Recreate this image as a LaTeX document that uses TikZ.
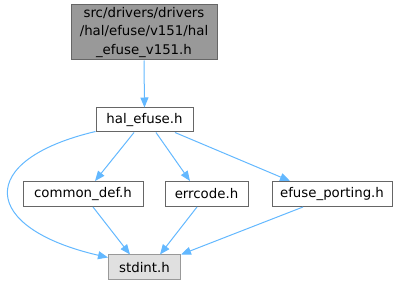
\documentclass[tikz,border=0pt]{standalone}
\usepackage{fontspec}
\setmainfont{DejaVu Sans}
\usepackage{xcolor}
\usepackage{tikz}
\usetikzlibrary{arrows.meta,calc}
\definecolor{edgeblue}{HTML}{63B8FF}
\definecolor{rootgray}{HTML}{999999}
\definecolor{leafgray}{HTML}{E0E0E0}
\tikzset{
file/.style={draw=gray!80!black,fill=white,line width=0.75pt,inner sep=0pt,font=\fontsize{10}{14}\selectfont},
dep/.style={-{Triangle[length=7.5pt,width=6pt]},edgeblue,line width=0.75pt}
}
\begin{document}
\begin{tikzpicture}[x=0.75pt,y=-0.75pt]
\useasboundingbox(0,0)rectangle(401,285);
\node[file,fill=rootgray,draw=gray!80!black,minimum width=109.5pt,minimum height=41.25pt,align=center](top)at(144,32.5){src/drivers/drivers\\/hal/efuse/v151/hal\\\_efuse\_v151.h};
\node[file,minimum width=72.75pt,minimum height=18pt](hal)at(144.5,120){hal\_efuse.h};
\node[file,minimum width=90pt,minimum height=18.75pt](common)at(83,194){common\_def.h};
\node[file,minimum width=62.25pt,minimum height=18.75pt](errcode)at(206.5,194){errcode.h};
\node[file,minimum width=90pt,minimum height=18.75pt](porting)at(332,194){efuse\_porting.h};
\node[file,fill=leafgray,draw=rootgray,minimum width=54pt,minimum height=18.75pt](stdint)at(144.5,267.5){stdint.h};
\draw[dep](top.south)--(hal.north);
\draw[dep]($(hal.south)+(-10.5,0)$)--($(common.north)+(12,0)$);
\draw[dep]($(hal.south)+(11.5,0)$)--($(errcode.north)+(-16.5,0)$);
\draw[dep]($(hal.south)+(30.5,0)$)--($(porting.north)+(-42,0)$);
\draw[dep]($(hal.south west)+(0,-1)$)..controls(-25,160)and(-20,228)..($(stdint.north west)+(0,3)$);
\draw[dep]($(common.south)+(10,0)$)--($(stdint.north)+(-14.5,0)$);
\draw[dep]($(errcode.south)+(-9.5,0)$)--($(stdint.north)+(15.5,0)$);
\draw[dep]($(porting.south)+(-29,0)$)--(stdint.north east);
\end{tikzpicture}
\end{document}
